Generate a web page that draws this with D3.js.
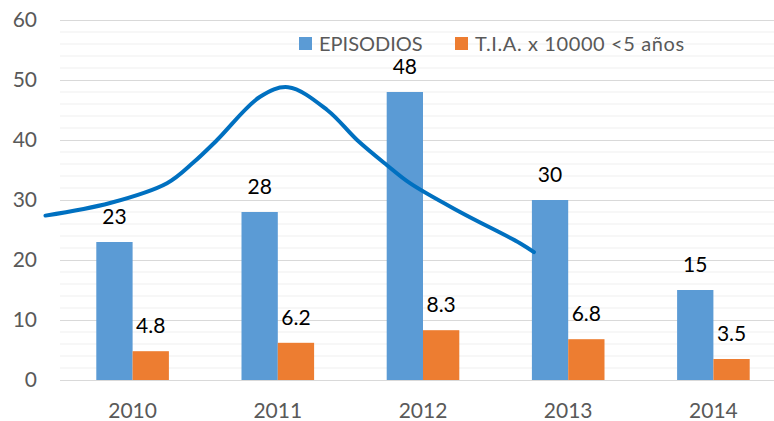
<!DOCTYPE html>
<html>
<head>
<meta charset="utf-8">
<script src="https://cdn.jsdelivr.net/npm/d3@7"></script>
<style>
  body { margin: 0; background: #fff; }
  svg text { font-family: Lato, "Open Sans", sans-serif; }
</style>
</head>
<body>
<svg id="chart" width="774" height="421"></svg>
<script>
const years = ["2010", "2011", "2012", "2013", "2014"];
const episodios = [23, 28, 48, 30, 15];
const tia = [4.8, 6.2, 8.3, 6.8, 3.5];
const yTicks = [0, 10, 20, 30, 40, 50, 60];
const seriesNames = ["EPISODIOS", "T.I.A. x 10000 <5 años"];
const seriesColors = ["#5b9bd5", "#ed7d31"];

// freehand blue curve drawn over the chart: position in year units, value on the y axis
const curveX = [-0.6, -0.155, 0.237, 0.416, 0.582, 0.878, 1.071, 1.34, 1.546, 1.752, 1.91, 2.255, 2.668, 2.764];
const curveY = [27.4, 29.5, 32.8, 36.2, 40, 47.2, 48.8, 45, 40, 35.8, 32.8, 28, 22.8, 21.3];

const data = years.map((y, i) => ({ year: y, values: [episodios[i], tia[i]] }));

const svg = d3.select("#chart");
const plotLeft = 60, plotRight = 786, plotTop = 20, plotBottom = 380;

const xScale = d3.scaleBand().domain(years).range([plotLeft, plotRight])
    .paddingInner(0.5).paddingOuter(0.25);
const xInner = d3.scaleBand().domain([0, 1]).range([0, xScale.bandwidth()]);
const yScale = d3.scaleLinear().domain([0, 60]).range([plotBottom, plotTop]);
const xPos = d3.scaleLinear().domain([0, 4])
    .range([xScale("2010") + xScale.bandwidth() / 2, xScale("2014") + xScale.bandwidth() / 2]);

// minor gridlines
svg.append("g").selectAll("line")
    .data(d3.range(2, 60, 2).filter(v => v % 10 !== 0))
    .join("line")
    .attr("x1", plotLeft).attr("x2", plotRight)
    .attr("y1", d => yScale(d)).attr("y2", d => yScale(d))
    .attr("stroke", "#efefef").attr("stroke-width", 1);

// major gridlines
svg.append("g").selectAll("line")
    .data(yTicks)
    .join("line")
    .attr("x1", plotLeft).attr("x2", plotRight)
    .attr("y1", d => yScale(d) + 0.5).attr("y2", d => yScale(d) + 0.5)
    .attr("stroke", "#d9d9d9").attr("stroke-width", 1);

// y labels
svg.append("g").selectAll("text")
    .data(yTicks)
    .join("text")
    .attr("x", 37)
    .attr("y", d => yScale(d))
    .attr("dy", "0.35em")
    .attr("text-anchor", "end")
    .attr("font-size", 21)
    .attr("fill", "#595959")
    .text(d => d);

// x labels
svg.append("g").selectAll("text")
    .data(years)
    .join("text")
    .attr("x", d => xScale(d) + xScale.bandwidth() / 2)
    .attr("y", 418)
    .attr("text-anchor", "middle")
    .attr("font-size", 21)
    .attr("fill", "#595959")
    .text(d => d);

// bars
const groups = svg.append("g").selectAll("g")
    .data(data)
    .join("g")
    .attr("transform", d => `translate(${xScale(d.year)},0)`);

groups.selectAll("rect")
    .data(d => d.values.map((v, i) => ({ v, i })))
    .join("rect")
    .attr("x", d => xInner(d.i))
    .attr("y", d => yScale(d.v))
    .attr("width", xInner.bandwidth())
    .attr("height", d => yScale(0) - yScale(d.v))
    .attr("fill", d => seriesColors[d.i]);

groups.selectAll("text")
    .data(d => d.values.map((v, i) => ({ v, i })))
    .join("text")
    .attr("x", d => xInner(d.i) + xInner.bandwidth() / 2)
    .attr("y", d => yScale(d.v) - 18)
    .attr("text-anchor", "middle")
    .attr("font-size", 21)
    .attr("fill", "#000")
    .text(d => d.v);

// legend
const legendX = [299, 455];
const legend = svg.append("g").selectAll("g")
    .data(seriesNames)
    .join("g")
    .attr("transform", (d, i) => `translate(${legendX[i]},37)`);
legend.append("rect")
    .attr("width", 13).attr("height", 13)
    .attr("fill", (d, i) => seriesColors[i]);
legend.append("text")
    .attr("x", 20).attr("y", 14)
    .attr("font-size", 20)
    .attr("letter-spacing", (d, i) => i === 1 ? 0.6 : 0)
    .attr("fill", "#595959")
    .text(d => d);

// freehand curve
const line = d3.line()
    .x(d => xPos(d[0]))
    .y(d => yScale(d[1]))
    .curve(d3.curveCatmullRom);
svg.append("path")
    .datum(curveX.map((x, i) => [x, curveY[i]]))
    .attr("d", line)
    .attr("fill", "none")
    .attr("stroke", "#0070c0")
    .attr("stroke-width", 4)
    .attr("stroke-linecap", "round");
</script>
</body>
</html>
